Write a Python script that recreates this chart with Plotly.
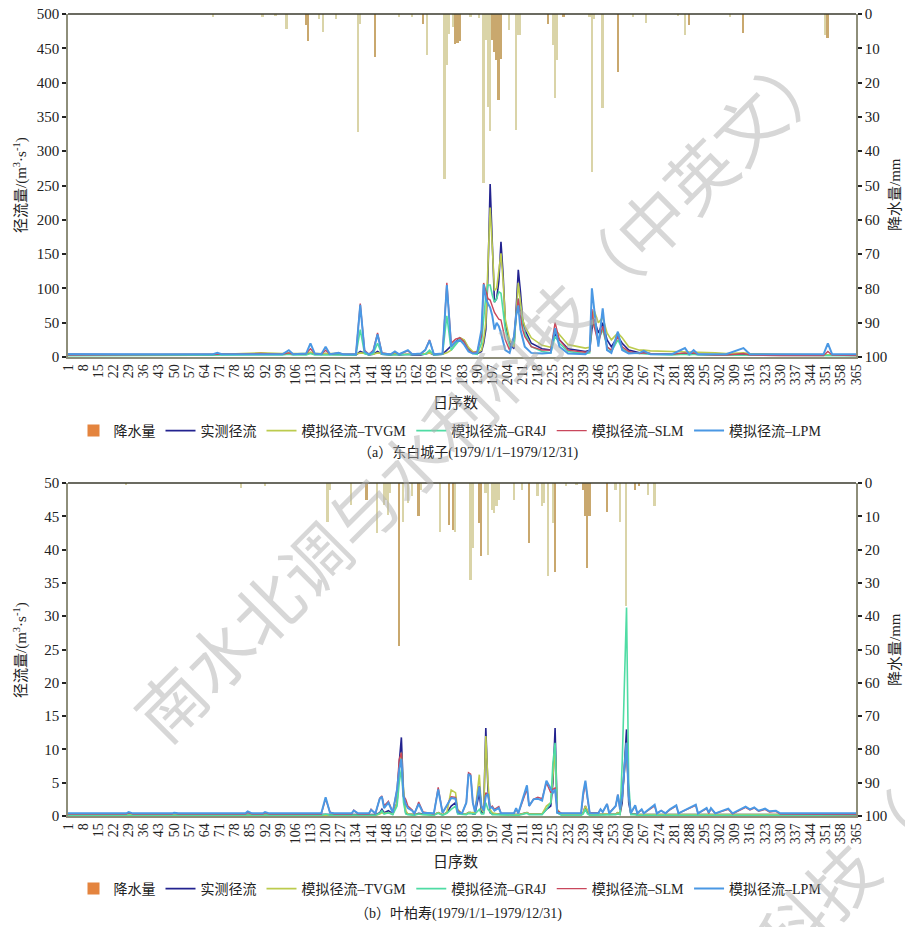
import plotly.graph_objects as go

# ---------------- (a) 东白城子 ----------------
days_a = [1, 60, 68, 70, 72, 90, 100, 103, 105, 111, 113, 115, 118, 120, 122, 126, 128, 134, 136, 138,
          140, 142, 144, 146, 150, 152, 154, 158, 160, 164, 166, 168, 170, 174, 176, 178, 180, 182, 184, 186,
          188, 190, 192, 193, 194, 195, 196, 197, 198, 199, 200, 201, 202, 203, 205, 207, 208, 209, 210, 211,
          212, 215, 220, 224, 226, 228, 232, 240, 242, 243, 244, 246, 248, 250, 252, 255, 257, 260, 265, 267,
          270, 280, 286, 288, 290, 292, 300, 305, 313, 316, 330, 350, 352, 354, 365]
obs_a = [4, 3, 3, 4, 4, 5, 4, 5, 4, 4, 6, 4, 4, 5, 4, 4, 3, 3, 8, 5,
         3, 4, 8, 4, 3, 4, 3, 4, 3, 3, 4, 6, 3, 4, 10, 16, 22, 28, 24, 12,
         6, 5, 8, 20, 40, 120, 252, 150, 80, 85, 110, 168, 120, 50, 20, 12, 80, 127, 95, 55,
         40, 20, 12, 10, 35, 25, 12, 8, 10, 40, 55, 35, 50, 25, 15, 30, 20, 10, 6, 6,
         5, 4, 5, 4, 5, 4, 3, 3, 4, 3, 3, 3, 4, 3, 3]
tvgm_a = [3, 3, 3, 4, 4, 6, 5, 6, 5, 5, 7, 5, 5, 6, 5, 5, 4, 4, 6, 5,
          4, 4, 6, 5, 4, 5, 4, 4, 4, 4, 5, 6, 4, 4, 6, 10, 20, 28, 25, 14,
          8, 6, 10, 25, 50, 130, 218, 160, 97, 100, 125, 151, 110, 55, 25, 15, 60, 108, 80, 55,
          45, 28, 17, 14, 40, 33, 18, 13, 14, 50, 68, 50, 58, 35, 25, 35, 28, 15, 10, 10,
          9, 8, 8, 8, 8, 7, 6, 5, 6, 5, 4, 3, 4, 3, 3]
gr4j_a = [2, 2, 2, 3, 3, 3, 3, 4, 3, 3, 5, 3, 3, 4, 3, 3, 3, 3, 40, 5,
          3, 5, 20, 4, 3, 3, 3, 3, 3, 3, 4, 10, 3, 4, 60, 10, 18, 25, 22, 10,
          5, 4, 20, 60, 90, 105, 105, 90, 80, 85, 95, 93, 70, 40, 15, 20, 60, 85, 65, 45,
          35, 15, 8, 6, 30, 20, 8, 5, 6, 60, 50, 25, 40, 15, 8, 25, 12, 6, 5, 5,
          4, 3, 4, 3, 4, 3, 3, 3, 3, 3, 2, 2, 3, 2, 2]
slm_a = [3, 3, 3, 4, 4, 5, 4, 6, 4, 5, 12, 5, 4, 10, 4, 6, 4, 4, 78, 10,
         4, 10, 35, 6, 4, 7, 4, 9, 4, 5, 10, 25, 4, 5, 108, 20, 26, 28, 22, 10,
         6, 8, 30, 108, 95, 85, 83, 75, 65, 60, 55, 54, 40, 25, 10, 30, 60, 85, 60, 40,
         30, 15, 10, 10, 50, 25, 10, 7, 8, 70, 45, 20, 45, 15, 10, 30, 15, 8, 5, 6,
         5, 4, 6, 5, 6, 4, 3, 3, 5, 3, 2, 2, 8, 3, 2]
lpm_a = [4, 4, 4, 6, 4, 4, 4, 10, 4, 5, 20, 5, 4, 15, 4, 6, 4, 4, 76, 8,
         4, 8, 33, 5, 4, 8, 4, 10, 4, 5, 10, 24, 4, 5, 105, 15, 22, 25, 18, 8,
         5, 6, 40, 106, 85, 78, 72, 60, 40, 50, 45, 35, 20, 10, 6, 30, 60, 75, 40, 25,
         15, 6, 5, 6, 42, 15, 5, 4, 10, 100, 70, 15, 71, 10, 6, 37, 10, 5, 6, 9,
         4, 4, 13, 4, 10, 4, 4, 4, 13, 4, 4, 4, 20, 4, 4]

rain_pale_days_a = [68, 91, 97, 102, 117, 119, 125, 135, 136, 154, 160, 167, 175, 176, 177, 179, 187, 191,
                    193, 194, 195, 196, 205, 208, 209, 210, 225, 226, 227, 242, 243, 244, 248, 262, 268,
                    283, 286, 307, 351]
rain_pale_a = [1.0, 1.0, 0.5, 4.5, 1.5, 5.3, 1.5, 34.3, 3.0, 1.0, 1.0, 12.0, 48.0, 15.0, 5.7, 3.7, 1.0, 1.3,
               49.4, 7.5, 27.0, 34.0, 4.7, 33.9, 6.0, 6.0, 9.0, 24.6, 13.5, 0.8, 46.0, 1.5, 27.5, 1.0, 2.5,
               0.5, 6.0, 0.8, 6.0]
rain_dark_days_a = [111, 112, 143, 165, 180, 181, 182, 197, 198, 199, 200, 201, 223, 230, 255, 288, 313, 352]
rain_dark_a = [3.2, 8.0, 12.6, 3.0, 8.7, 8.5, 8.0, 7.7, 11.0, 13.4, 25.0, 13.0, 3.0, 1.0, 17.0, 3.3, 5.6, 7.0]

# ---------------- (b) 叶柏寿 ----------------
days_b = [1, 28, 29, 31, 49, 50, 52, 83, 84, 86, 91, 92, 94, 118, 120, 122, 124, 132, 133, 135,
          140, 141, 143, 145, 146, 147, 149, 151, 153, 154, 155, 156, 157, 158, 160, 161, 163, 165, 170, 172,
          174, 176, 178, 180, 181, 183, 185, 186, 187, 188, 189, 191, 192, 193, 194, 195, 196, 197, 198, 200,
          201, 207, 208, 209, 213, 214, 216, 218, 220, 222, 224, 225, 226, 227, 229, 238, 239, 240, 241, 242,
          246, 247, 248, 250, 251, 254, 255, 256, 257, 259, 260, 261, 263, 264, 266, 267, 272, 273, 275, 277,
          279, 282, 283, 291, 292, 296, 297, 298, 300, 306, 308, 312, 314, 316, 318, 320, 323, 325, 328, 330,
          365]
obs_b = [0.3, 0.3, 0.3, 0.3, 0.3, 0.3, 0.3, 0.3, 0.3, 0.3, 0.3, 0.3, 0.3, 0.2, 0.3, 0.2, 0.2, 0.2, 0.3, 0.2,
         0.2, 0.3, 0.2, 0.5, 1.0, 0.5, 0.8, 0.3, 2.0, 8.0, 11.8, 3.0, 0.5, 0.3, 0.3, 0.2, 0.4, 0.3, 0.2, 0.5,
         0.2, 0.5, 1.5, 2.0, 0.5, 0.3, 0.3, 0.5, 0.5, 0.3, 0.3, 3.5, 0.5, 0.5, 13.2, 4.0, 0.5, 0.3, 0.3, 0.3,
         0.2, 0.2, 0.2, 0.2, 0.5, 0.3, 0.3, 0.3, 0.3, 1.0, 1.5, 5.0, 13.2, 0.5, 0.2, 0.2, 0.5, 1.5, 0.5, 0.2,
         0.2, 0.3, 0.3, 0.3, 0.2, 0.3, 0.5, 0.3, 2.0, 13.0, 2.0, 0.3, 0.3, 0.2, 0.2, 0.2, 0.2, 0.2, 0.2, 0.2,
         0.2, 0.2, 0.2, 0.2, 0.2, 0.2, 0.2, 0.2, 0.2, 0.2, 0.2, 0.2, 0.2, 0.2, 0.2, 0.2, 0.2, 0.2, 0.2, 0.2,
         0.2]
tvgm_b = [0.2, 0.2, 0.2, 0.2, 0.2, 0.2, 0.2, 0.2, 0.2, 0.2, 0.2, 0.2, 0.2, 0.1, 0.2, 0.1, 0.1, 0.1, 0.2, 0.1,
          0.1, 0.2, 0.1, 0.3, 0.5, 0.4, 0.5, 0.3, 2.0, 7.0, 9.5, 4.0, 0.8, 0.3, 0.3, 0.2, 0.3, 0.3, 0.2, 0.5,
          0.2, 0.5, 3.9, 3.5, 1.0, 0.3, 0.3, 0.5, 0.5, 0.4, 0.5, 6.2, 1.0, 0.5, 12.0, 5.0, 1.0, 0.5, 0.4, 0.3,
          0.2, 0.2, 0.2, 0.2, 0.5, 0.3, 0.3, 0.3, 0.3, 1.5, 2.0, 6.0, 10.0, 1.0, 0.2, 0.2, 0.5, 1.5, 0.8, 0.2,
          0.2, 0.3, 0.3, 0.3, 0.2, 0.3, 0.5, 0.3, 3.0, 11.0, 3.0, 0.3, 0.2, 0.2, 0.2, 0.2, 0.2, 0.2, 0.2, 0.2,
          0.2, 0.2, 0.2, 0.2, 0.2, 0.2, 0.2, 0.2, 0.2, 0.2, 0.2, 0.2, 0.2, 0.2, 0.2, 0.2, 0.2, 0.2, 0.2, 0.2,
          0.2]
gr4j_b = [0.1, 0.1, 0.1, 0.1, 0.1, 0.1, 0.1, 0.1, 0.1, 0.1, 0.1, 0.1, 0.1, 0.1, 0.3, 0.1, 0.1, 0.1, 0.2, 0.1,
          0.1, 0.2, 0.1, 0.4, 0.8, 0.3, 0.5, 0.2, 1.5, 5.0, 7.0, 2.0, 0.3, 0.2, 0.2, 0.1, 0.3, 0.2, 0.1, 0.4,
          0.1, 0.4, 1.0, 1.5, 0.3, 0.2, 0.2, 0.4, 0.4, 0.3, 0.3, 1.0, 0.3, 0.3, 2.0, 1.0, 0.5, 0.2, 0.2, 0.2,
          0.1, 0.1, 0.1, 0.1, 0.4, 0.2, 0.2, 0.2, 0.2, 1.0, 2.0, 8.0, 11.0, 0.5, 0.1, 0.1, 0.3, 1.0, 0.3, 0.1,
          0.1, 0.2, 0.2, 0.2, 0.1, 0.2, 0.3, 0.2, 8.0, 31.3, 5.0, 0.2, 0.2, 0.1, 0.1, 0.1, 0.1, 0.1, 0.1, 0.1,
          0.1, 0.1, 0.1, 0.1, 0.1, 0.1, 0.1, 0.1, 0.1, 0.1, 0.1, 0.1, 0.1, 0.1, 0.1, 0.1, 0.1, 0.1, 0.1, 0.1,
          0.1]
slm_b = [0.3, 0.3, 0.5, 0.3, 0.3, 0.4, 0.3, 0.3, 0.6, 0.3, 0.3, 0.5, 0.3, 0.3, 2.6, 0.6, 0.3, 0.3, 0.9, 0.3,
         0.3, 1.0, 0.3, 2.7, 3.0, 1.5, 2.2, 0.6, 4.0, 8.5, 9.5, 3.0, 2.5, 1.5, 0.9, 0.3, 2.1, 0.6, 0.3, 4.3,
         0.5, 1.5, 2.9, 2.8, 0.8, 0.4, 2.0, 6.5, 6.3, 2.0, 0.8, 4.5, 1.5, 0.8, 3.5, 3.2, 1.2, 1.5, 1.0, 1.4,
         0.4, 0.4, 1.0, 0.4, 4.0, 1.5, 2.5, 2.8, 2.6, 5.0, 3.5, 4.0, 4.2, 0.8, 0.4, 0.4, 3.0, 5.0, 2.5, 0.5,
         0.5, 1.0, 0.6, 1.8, 0.5, 1.5, 3.2, 1.0, 3.0, 10.0, 3.0, 0.5, 1.5, 0.4, 0.9, 0.4, 1.5, 0.4, 0.8, 0.4,
         0.9, 1.5, 0.4, 1.6, 0.4, 1.1, 0.4, 1.1, 0.4, 1.0, 0.3, 0.9, 1.3, 0.9, 1.2, 0.7, 1.0, 0.6, 0.7, 0.3,
         0.2]
lpm_b = [0.4, 0.4, 0.6, 0.4, 0.4, 0.5, 0.4, 0.4, 0.7, 0.4, 0.4, 0.6, 0.4, 0.4, 2.8, 0.5, 0.4, 0.4, 0.8, 0.4,
         0.4, 0.9, 0.4, 2.6, 2.9, 1.2, 2.0, 0.5, 4.0, 7.0, 8.6, 3.0, 1.8, 1.2, 0.8, 0.4, 1.8, 0.5, 0.4, 4.0,
         0.5, 1.5, 2.7, 2.6, 0.6, 0.4, 2.0, 6.3, 6.0, 2.0, 0.6, 4.4, 1.5, 0.8, 3.0, 3.3, 1.2, 1.3, 0.8, 1.2,
         0.4, 0.4, 1.2, 0.4, 4.6, 1.5, 2.5, 2.6, 2.3, 5.3, 4.0, 3.5, 4.0, 0.5, 0.4, 0.4, 3.5, 5.3, 2.8, 0.4,
         0.4, 1.0, 0.6, 1.8, 0.4, 1.5, 3.2, 1.0, 3.0, 11.0, 3.0, 0.4, 1.6, 0.4, 1.0, 0.4, 1.7, 0.4, 0.8, 0.4,
         1.0, 1.6, 0.4, 1.7, 0.4, 1.2, 0.5, 1.2, 0.4, 1.1, 0.4, 1.0, 1.4, 1.0, 1.3, 0.8, 1.1, 0.7, 0.8, 0.4,
         0.4]

rain_pale_days_b = [28, 81, 92, 121, 122, 132, 144, 147, 148, 149, 150, 156, 158, 160, 164, 173, 180, 187,
                    188, 194, 195, 197, 198, 199, 200, 207, 211, 218, 220, 221, 223, 225, 231, 236, 254, 256,
                    259, 269, 272]
rain_pale_b = [0.5, 1.5, 0.8, 11.6, 2.0, 6.6, 15.0, 6.6, 5.0, 9.7, 3.0, 11.6, 6.0, 4.0, 2.0, 14.6, 14.6, 29.0,
               19.5, 3.0, 21.6, 8.0, 9.0, 7.0, 5.0, 5.0, 2.0, 4.0, 7.0, 6.0, 28.0, 12.0, 1.0, 0.5, 2.0, 11.6,
               37.0, 3.6, 7.0]
rain_dark_days_b = [139, 154, 163, 177, 179, 191, 192, 214, 226, 239, 240, 241, 242, 250, 263, 265]
rain_dark_b = [5.0, 49.0, 10.0, 12.6, 14.0, 12.0, 22.0, 18.0, 26.6, 2.0, 10.0, 25.5, 10.0, 8.6, 2.0, 1.0]

day_ticks = list(range(1, 366, 7))

names = ["实测径流", "模拟径流–TVGM", "模拟径流–GR4J", "模拟径流–SLM", "模拟径流–LPM"]
colors = ["#23238f", "#bccb4e", "#4fdca4", "#c9475c", "#4a98e4"]
widths = [1.6, 1.6, 1.6, 1.4, 2.0]
rain_legend_color = "#e4843e"
pale_color = "#dad4a8"
dark_color = "#c9a86e"

FONT = "Liberation Serif, Noto Sans CJK SC, serif"
W, H = 913, 927
OFF = 8  # the page places the figure 8px from the window's top-left corner


def px(x):
    return (x - OFF) / W


def py(y):
    return 1 - (y - OFF) / H


XD = [px(68), px(856)]
YD_A = [py(357), py(14)]
YD_B = [py(816), py(483)]

fig = go.Figure()


def add_panel(days, series, pale_days, pale_vals, dark_days, dark_vals, xa, ya, ya2, leg):
    fig.add_trace(go.Bar(x=[1], y=[0], name="降水量", marker=dict(color=rain_legend_color, line=dict(width=0)),
                         xaxis=xa, yaxis=ya2, legend=leg, showlegend=True, hoverinfo="skip"))
    fig.add_trace(go.Bar(x=pale_days, y=pale_vals, width=0.8, marker=dict(color=pale_color, line=dict(width=0)),
                         xaxis=xa, yaxis=ya2, showlegend=False, legend=leg))
    fig.add_trace(go.Bar(x=dark_days, y=dark_vals, width=0.8, marker=dict(color=dark_color, line=dict(width=0)),
                         xaxis=xa, yaxis=ya2, showlegend=False, legend=leg))
    for nm, vals, c, w in zip(names, series, colors, widths):
        fig.add_trace(go.Scatter(x=days, y=vals, mode="lines", name=nm, line=dict(color=c, width=w),
                                 xaxis=xa, yaxis=ya, legend=leg))


add_panel(days_a, [obs_a, tvgm_a, gr4j_a, slm_a, lpm_a], rain_pale_days_a, rain_pale_a,
          rain_dark_days_a, rain_dark_a, "x", "y", "y2", "legend")
add_panel(days_b, [obs_b, tvgm_b, gr4j_b, slm_b, lpm_b], rain_pale_days_b, rain_pale_b,
          rain_dark_days_b, rain_dark_b, "x2", "y3", "y4", "legend2")

axis_line = "#8e8e7a"
xcommon = dict(range=[1, 365], tickvals=day_ticks, tickangle=-90, showgrid=False, zeroline=False,
               showline=True, linecolor=axis_line, linewidth=1.5, ticks="", automargin=False,
               ticklabeloverflow="allow",
               tickfont=dict(family=FONT, size=14, color="#222"), domain=XD)
ycommon = dict(showgrid=False, zeroline=False, showline=True, linecolor=axis_line, linewidth=1.5,
               ticks="outside", ticklen=4, tickwidth=1.5, tickcolor="#222", automargin=False,
               ticklabeloverflow="allow",
               tickfont=dict(family=FONT, size=15, color="#222"))

leg_common = dict(orientation="h", xanchor="center", x=px(450), yanchor="middle",
                  font=dict(family=FONT, size=14, color="#222"), itemwidth=30,
                  bgcolor="rgba(0,0,0,0)", tracegroupgap=0)

fig.update_layout(
    width=W, height=H, margin=dict(l=0, r=0, t=0, b=0, autoexpand=False),
    paper_bgcolor="white", plot_bgcolor="white", barmode="overlay", bargap=0,
    font=dict(family=FONT, size=14, color="#222"),
    xaxis=dict(xcommon, anchor="y"),
    yaxis=dict(ycommon, domain=YD_A, range=[0, 500], dtick=50, anchor="x"),
    yaxis2=dict(ycommon, domain=YD_A, range=[100, 0], dtick=10, overlaying="y", side="right", anchor="x"),
    xaxis2=dict(xcommon, anchor="y3"),
    yaxis3=dict(ycommon, domain=YD_B, range=[0, 50], dtick=5, anchor="x2"),
    yaxis4=dict(ycommon, domain=YD_B, range=[100, 0], dtick=10, overlaying="y3", side="right", anchor="x2"),
    legend=dict(leg_common, y=py(431)),
    legend2=dict(leg_common, y=py(889)),
    showlegend=True,
)

# dark top border of each panel
for xr, yr in (("x domain", "y domain"), ("x2 domain", "y3 domain")):
    fig.add_shape(type="line", xref=xr, yref=yr, x0=0, x1=1, y0=1, y1=1,
                  line=dict(color="#3a3a2c", width=1.5))

ann = []


def txt(x, y, t, size=15, angle=0):
    ann.append(dict(x=px(x), y=py(y), xref="paper", yref="paper", text=t, showarrow=False,
                    textangle=angle, font=dict(family=FONT, size=size, color="#222"),
                    xanchor="center", yanchor="middle"))


ylab = "径流量/(m<sup>3</sup>·s<sup>-1</sup>)"
txt(20, 185, ylab, 15, -90)
txt(20, 650, ylab, 15, -90)
txt(895, 195, "降水量/mm", 15, -90)
txt(895, 650, "降水量/mm", 15, -90)
txt(455, 403, "日序数", 15)
txt(455, 862, "日序数", 15)
txt(468, 453, "（a）东白城子(1979/1/1–1979/12/31)", 14)
txt(458, 913, "（b）叶柏寿(1979/1/1–1979/12/31)", 14)

wm = "南水北调与水利科技（中英文）"
for cx, cy in ((481, 389), (768, 950)):
    ann.append(dict(x=px(cx), y=py(cy), xref="paper", yref="paper", text=wm, showarrow=False,
                    textangle=-45, xanchor="center", yanchor="middle",
                    font=dict(family="Noto Sans CJK SC", size=68, color="rgba(175,175,175,0.5)")))

fig.update_layout(annotations=ann)
fig.write_html("out.html")
